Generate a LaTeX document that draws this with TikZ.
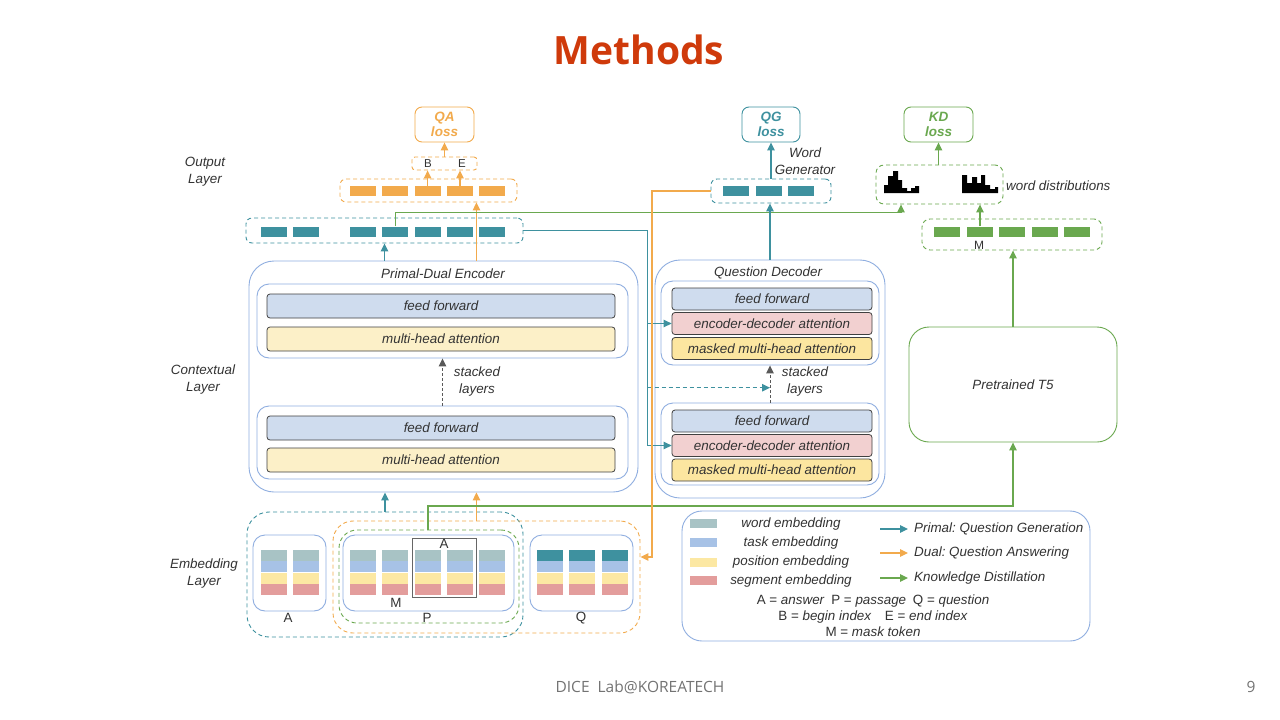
\documentclass[tikz,border=0pt]{standalone}
\usepackage{fontspec}
\setmainfont{Liberation Sans}
\newfontfamily\titlefont{Open Sans}
\usetikzlibrary{arrows.meta,positioning,calc}
\frenchspacing
\definecolor{tealc}{HTML}{3E919F}
\definecolor{orngc}{HTML}{F2AA4C}
\definecolor{grnc}{HTML}{6AA84F}
\definecolor{bluec}{HTML}{8FAEE0}
\definecolor{ffblue}{HTML}{CFDCEE}
\definecolor{mhyel}{HTML}{FCF0C8}
\definecolor{mkyel}{HTML}{FCE6A0}
\definecolor{edpink}{HTML}{F2D0D0}
\definecolor{wemb}{HTML}{A8C3C5}
\definecolor{temb}{HTML}{A7C2E6}
\definecolor{pemb}{HTML}{FCE8A3}
\definecolor{semb}{HTML}{E39D9C}
\definecolor{txtc}{HTML}{333333}
\definecolor{ttlc}{HTML}{CF3A0B}
\tikzset{
  every node/.style={font=\fontsize{13.4}{15}\selectfont, text=txtc},
  lbl/.style={font=\fontsize{13.4}{17}\selectfont\itshape, align=center, inner sep=0},
  tok/.style={minimum width=26pt, minimum height=10pt, inner sep=0},
  blk/.style={draw=black!75, line width=0.8pt, rounded corners=3pt, inner sep=0,
    font=\fontsize{13.4}{15}\selectfont\itshape},
  layerbox/.style={draw=bluec, line width=0.9pt, rounded corners=12pt, inner sep=0},
  bigbox/.style={draw=bluec, line width=0.9pt, rounded corners=25pt, inner sep=0},
  lossbox/.style={draw=#1, text=#1, line width=0.9pt, rounded corners=7pt, align=center,
    minimum height=35pt, inner sep=0, font=\fontsize{13.5}{15.5}\selectfont\bfseries\itshape},
  dbox/.style={draw=#1, dash pattern=on 4pt off 3pt, line width=0.9pt, rounded corners=6pt, inner sep=0},
  arr/.style={draw=#1, line width=1.1pt, -{Triangle[length=8pt,width=7.5pt]}},
}
\newcommand{\embcol}[3]{%
  \node[tok, minimum height=11pt, fill=#3] (#1w) at (#2,555.5) {};
  \node[tok, minimum height=11pt, fill=temb, below=0pt of #1w] (#1t) {};
  \node[tok, minimum height=11pt, fill=pemb, below=0pt of #1t] (#1p) {};
  \node[tok, minimum height=11pt, fill=semb, below=0pt of #1p] (#1s) {};
}
\begin{document}
\begin{tikzpicture}[x=1pt,y=-1pt]
\useasboundingbox[fill=white] (0,0) rectangle (1280,720);

% title and footer
\node[font=\titlefont\fontsize{39}{44}\selectfont\bfseries, text=ttlc] (title) at (639,50) {Methods};
\node[font=\titlefont\fontsize{15.5}{18}\selectfont, text=black!55] (foot) at (640,687) {DICE\ \ Lab@KOREATECH};
\node[font=\titlefont\fontsize{15.5}{18}\selectfont, text=black!55] (page) at (1251,687) {9};

% layer labels
\node[lbl] (outl) at (205,171.5) {Output\\Layer};
\node[lbl] (ctxl) at (203,380) {Contextual\\Layer};
\node[lbl] (embl) at (204,574) {Embedding\\Layer};

% encoder
\node[bigbox, minimum width=389pt, minimum height=231pt] (enc) at (443.5,376.5) {};
\node[lbl] (enct) at (443,274) {Primal-Dual Encoder};
\node[layerbox, minimum width=371pt, minimum height=74pt] (encL1) at (442.5,321) {};
\node[blk, fill=ffblue, minimum width=348pt, minimum height=24pt] (ff1) at (441,306) {feed forward};
\node[blk, fill=mhyel, minimum width=348pt, minimum height=24pt] (mh1) at (441,339) {multi-head attention};
\node[layerbox, minimum width=371pt, minimum height=73pt] (encL2) at (442.5,442.5) {};
\node[blk, fill=ffblue, minimum width=348pt, minimum height=24pt] (ff2) at (441,428) {feed forward};
\node[blk, fill=mhyel, minimum width=348pt, minimum height=24pt] (mh2) at (441,460) {multi-head attention};
\draw[arr=black!65, line width=1pt, dash pattern=on 3pt off 2pt] (encL2.north) -- (encL1.south);
\node[lbl] (encst) at (477,382) {stacked\\layers};

% decoder
\node[bigbox, minimum width=230pt, minimum height=238pt] (dec) at (770,379) {};
\node[lbl] (dect) at (768,273) {Question Decoder};
\node[layerbox, minimum width=218pt, minimum height=84pt] (decL1) at (770,323) {};
\node[blk, fill=ffblue, minimum width=200pt, minimum height=22pt] (dff1) at (772,299) {feed forward};
\node[blk, fill=edpink, minimum width=200pt, minimum height=22pt] (ded1) at (772,323.5) {encoder-decoder attention};
\node[blk, fill=mkyel, minimum width=200pt, minimum height=22pt] (dmk1) at (772,348.5) {masked multi-head attention};
\node[layerbox, minimum width=218pt, minimum height=82pt] (decL2) at (770,444) {};
\node[blk, fill=ffblue, minimum width=200pt, minimum height=22pt] (dff2) at (772,421) {feed forward};
\node[blk, fill=edpink, minimum width=200pt, minimum height=22pt] (ded2) at (772,445.5) {encoder-decoder attention};
\node[blk, fill=mkyel, minimum width=200pt, minimum height=22pt] (dmk2) at (772,470) {masked multi-head attention};
\draw[arr=black!65, line width=1pt, dash pattern=on 3pt off 2pt] (decL2.north) -- (decL1.south);
\node[lbl] (decst) at (805,382) {stacked\\layers};

% pretrained T5
\node[draw=grnc, line width=0.9pt, rounded corners=20pt, minimum width=208pt, minimum height=115pt,
  font=\fontsize{13.4}{15}\selectfont\itshape] (t5) at (1013,384.5) {Pretrained T5};

% output layer
\node[lossbox=orngc, minimum width=59pt] (qaloss) at (444.5,124.5) {QA\\loss};
\node[lossbox=tealc, minimum width=58pt] (qgloss) at (771,124.5) {QG\\loss};
\node[lossbox=grnc, minimum width=69pt] (kdloss) at (938.5,124.5) {KD\\loss};

\node[dbox=orngc, rounded corners=3pt, minimum width=65pt, minimum height=13pt] (be) at (444.5,163.5) {};
\node[font=\fontsize{11.5}{12}\selectfont, inner sep=0] (bB) at (428,164) {B};
\node[font=\fontsize{11.5}{12}\selectfont, inner sep=0] (bE) at (462,164) {E};

\node[dbox=orngc, minimum width=177pt, minimum height=23pt] (qabox) at (428.5,190.5) {};
\foreach \i/\x in {1/363,2/395.3,3/427.6,4/460,5/492.3}
  \node[tok, fill=orngc] (qa\i) at (\x,191) {};

\node[dbox=tealc, minimum width=277pt, minimum height=25pt] (encout) at (384.5,230.5) {};
\foreach \i/\x in {1/273.5,2/306,3/363,4/395.3,5/427.6,6/460,7/492.3}
  \node[tok, fill=tealc] (e\i) at (\x,231.5) {};

\node[dbox=tealc, minimum width=120pt, minimum height=24pt] (qgbox) at (771,191) {};
\foreach \i/\x in {1/736,2/768.5,3/800.5}
  \node[tok, fill=tealc] (g\i) at (\x,191) {};
\node[lbl] (wgen) at (805,161) {Word\\Generator};

\node[dbox=grnc, rounded corners=8pt, minimum width=127pt, minimum height=39pt] (distbox) at (939.5,184.5) {};
\fill[black] (884,193) -- (884,185) -- (888,185) -- (888,176) -- (893,176) -- (893,171) -- (898,171)
  -- (898,180) -- (902,180) -- (902,188) -- (907,188) -- (907,191) -- (911,191) -- (911,188)
  -- (915,188) -- (915,186) -- (919,186) -- (919,193) -- cycle;
\fill[black] (962,193) -- (962,175) -- (967,175) -- (967,183) -- (972,183) -- (972,177) -- (977,177)
  -- (977,183) -- (981,183) -- (981,175) -- (985,175) -- (985,185) -- (990,185) -- (990,189)
  -- (995,189) -- (995,187) -- (998,187) -- (998,193) -- cycle;
\coordinate (h1) at (901,182);
\node[lbl, anchor=west] (wdist) at (1006,186) {word distributions};

\node[dbox=grnc, rounded corners=8pt, minimum width=180pt, minimum height=31pt] (mbox) at (1012,234.5) {};
\foreach \i/\x in {1/947,2/980,3/1012,4/1045,5/1077}
  \node[tok, fill=grnc] (m\i) at (\x,231.5) {};
\node[font=\fontsize{12}{12}\selectfont, inner sep=0] (mM) at (979,245) {M};

% embedding layer
\node[dbox=tealc, rounded corners=22pt, minimum width=276pt, minimum height=125pt] (embT) at (385,574.5) {};
\node[dbox=orngc, rounded corners=20pt, minimum width=307pt, minimum height=112pt] (embO) at (486.5,577) {};
\node[dbox=grnc, rounded corners=18pt, minimum width=180pt, minimum height=93pt] (embG) at (429,576.5) {};
\node[layerbox, minimum width=73pt, minimum height=76pt] (boxA) at (289.5,573) {};
\node[layerbox, minimum width=171pt, minimum height=76pt] (boxP) at (428.5,573) {};
\node[layerbox, minimum width=103pt, minimum height=76pt] (boxQ) at (581.5,573) {};
\embcol{a1}{273.5}{wemb}
\embcol{a2}{306}{wemb}
\embcol{p1}{363}{wemb}
\embcol{p2}{395.3}{wemb}
\embcol{p3}{427.6}{wemb}
\embcol{p4}{460}{wemb}
\embcol{p5}{492.3}{wemb}
\embcol{q1}{550}{tealc}
\embcol{q2}{582}{tealc}
\embcol{q3}{614.5}{tealc}
\node[draw=black!60, line width=0.9pt, minimum width=64pt, minimum height=59pt, inner sep=0] (ansbox) at (444,567.5) {};
\node[inner sep=0] (ansA) at (444,544) {A};
\node[inner sep=0] (maskM) at (396,603) {M};
\node[inner sep=0] (labA) at (288,618) {A};
\node[inner sep=0] (labP) at (427,618) {P};
\node[inner sep=0] (labQ) at (581,618) {Q};

% legend
\node[draw=bluec, line width=0.9pt, rounded corners=20pt, minimum width=408pt, minimum height=130pt] (legend) at (886,576) {};
\foreach \i/\y/\c/\t in {1/523.5/wemb/word embedding, 2/542.5/temb/task embedding,
    3/562/pemb/position embedding, 4/580.5/semb/segment embedding} {
  \node[fill=\c, minimum width=27pt, minimum height=9pt, inner sep=0] (sw\i) at (703.5,\y) {};
  \node[lbl] (swl\i) at (791,\y+0.5) {\t};
}
\foreach \i/\y/\c/\t in {1/529/tealc/Primal: Question Generation, 2/553/orngc/Dual: Question Answering,
    3/578/grnc/Knowledge Distillation} {
  \coordinate (lgs\i) at (880,\y);
  \coordinate (lge\i) at (908,\y);
  \draw[arr=\c] (lgs\i) -- (lge\i);
  \node[lbl, anchor=west] (lgl\i) at (914,\y) {\t};
}
\node[inner sep=0] (key1) at (873,601) {A = \textit{answer}\enspace P = \textit{passage}\enspace Q = \textit{question}};
\node[inner sep=0] (key2) at (873,617) {B = \textit{begin index}\quad E = \textit{end index}};
\node[inner sep=0] (key3) at (873,632) {M = \textit{mask token}};

% connectors
\draw[arr=tealc] (embT.north) -- (embT.north |- enc.south);
\draw[arr=orngc] (embO.north -| ansbox.east) -- (enc.south -| ansbox.east);
\coordinate (gturn) at (428,506);
\draw[arr=grnc] (embG.north -| gturn) -- (gturn) -| (t5.south);
\draw[arr=tealc] (enc.north -| encout.south) -- (encout.south);
\draw[arr=orngc] (enc.north -| ansbox.east) -- (qabox.south -| ansbox.east);
\draw[arr=orngc] (qa3.north) -- (qa3.north |- be.south);
\draw[arr=orngc] (qa4.north) -- (qa4.north |- be.south);
\draw[arr=orngc] (be.north) -- (qaloss.south);
\draw[arr=grnc] (e4.north) |- ($(distbox.south -| h1)+(0,8)$) -- (distbox.south -| h1);
\coordinate (tv) at ($(ded1.west)+(-24,0)$);
\draw[arr=tealc] (encout.east) -| (tv) -- (ded1.west);
\draw[arr=tealc] (tv) |- (ded2.west);
\coordinate (dmid) at ($(decL1.south)!0.6!(decL2.north)$);
\draw[arr=tealc, dash pattern=on 4pt off 3pt] (tv |- dmid) -- (dmid);
\coordinate (oturn) at (652,557);
\draw[arr=orngc] (qgbox.west) -| (oturn) -- (oturn -| embO.east);
\draw[arr=tealc] (dec.north) -- (dec.north |- qgbox.south);
\draw[arr=tealc] (qgbox.north) -- (qgbox.north |- qgloss.south);
\draw[arr=grnc] (t5.north) -- (t5.north |- mbox.south);
\draw[arr=grnc] (m2.north) -- (m2.north |- distbox.south);
\draw[arr=grnc] (distbox.north -| kdloss.south) -- (kdloss.south);
\end{tikzpicture}
\end{document}
